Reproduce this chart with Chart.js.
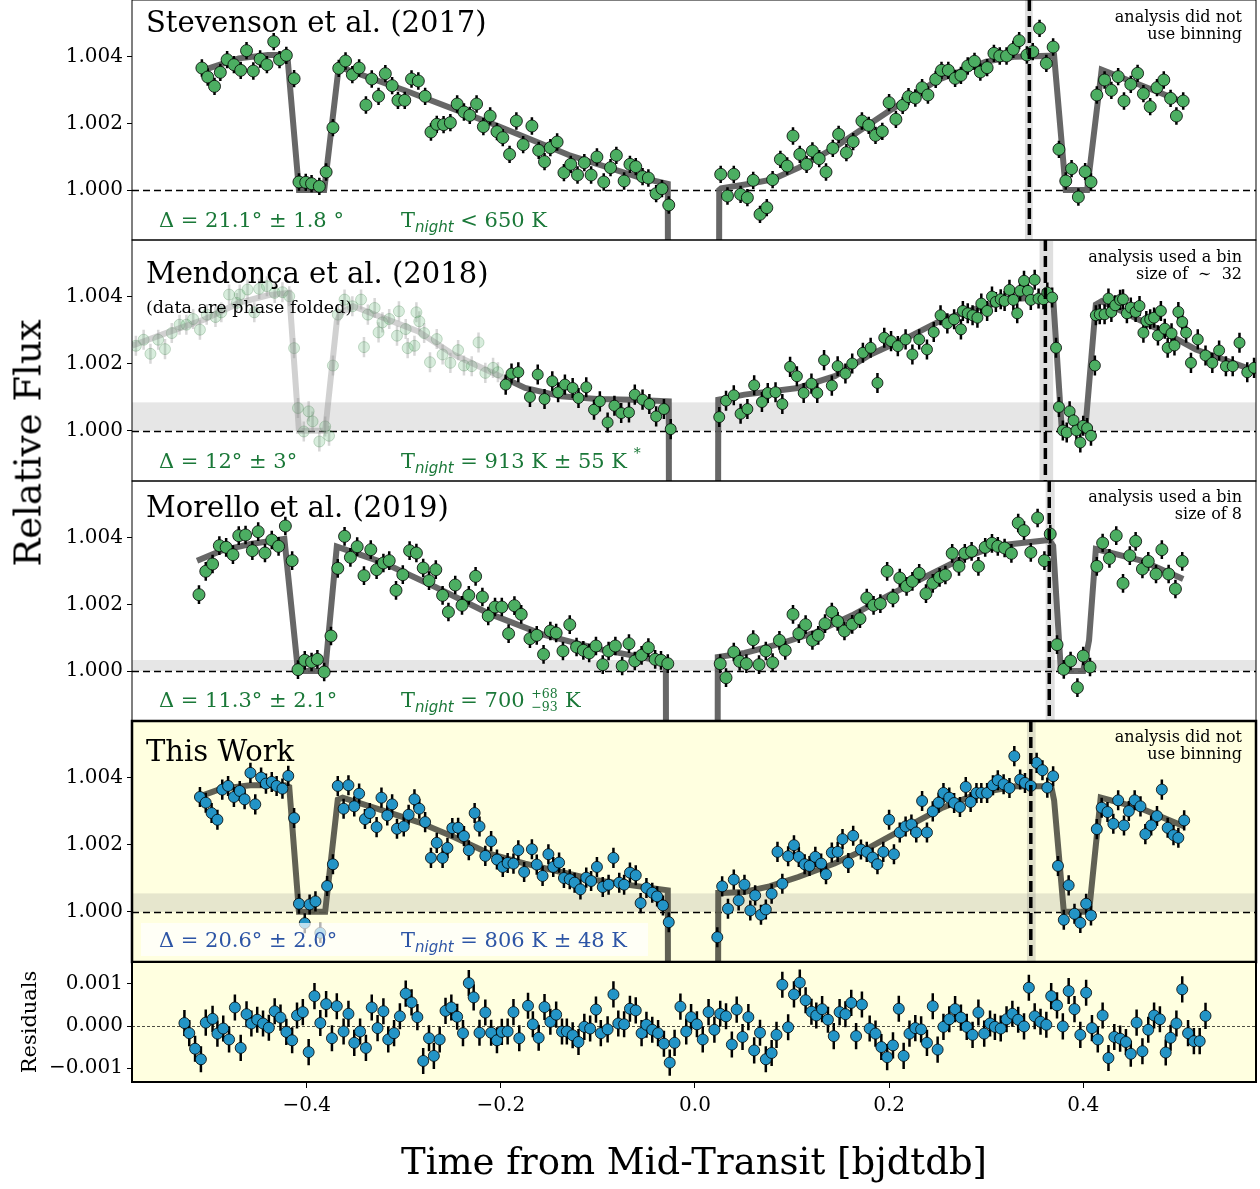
<!DOCTYPE html>
<html>
<head>
<meta charset="utf-8">
<script src="https://cdn.jsdelivr.net/npm/chart.js@4.4.1/dist/chart.umd.min.js"></script>
<style>
  body { margin: 0; background: #fff; }
  #fig { position: relative; width: 1260px; height: 1189px; overflow: hidden; background: #fff; }
  #fig canvas { position: absolute; left: 0; }
  .txt { position: absolute; font-family: 'DejaVu Serif'; white-space: nowrap; line-height: 1; color: #000; z-index: 5; }
  .title { font-size: 29px; left: 146px; }
  .folded { font-size: 17.5px; left: 146px; }
  .note { font-size: 16px; line-height: 17px; right: 18px; text-align: right; }
  .param { font-size: 21px; }
  .green { color: #1a7838; }
  .blue { color: #2d55a5; }
  .night { font-family: 'DejaVu Sans'; font-style: italic; font-size: 15px; position: relative; top: 5px; }
  .star { font-size: 14px; position: relative; top: -10px; }
  .pm { display: inline-block; position: relative; width: 27px; height: 10px; }
  .pm span { position: absolute; left: 0; font-size: 12.5px; line-height: 12.5px; }
  .pm .up { top: -9px; }
  .pm .dn { top: 4px; }
  .box { position: absolute; left: 141px; top: 923px; width: 507px; height: 33px; background: rgba(255,255,255,0.7); z-index: 4; }
  .ylabel { font-size: 37px; left: 28px; top: 443px; transform: translate(-50%, -50%) rotate(-90deg); }
</style>
</head>
<body>
<div id="fig">
  <div class="txt title" style="top:7.5px">Stevenson et al. (2017)</div>
  <div class="txt note" style="top:8px">analysis did not<br>use binning</div>
  <div class="txt param green" style="left:159px;top:210px">Δ = 21.1° ± 1.8 °</div>
  <div class="txt param green" style="left:401px;top:210px">T<span class="night">night</span> &lt; 650 K</div>

  <div class="txt title" style="top:258.5px">Mendonça et al. (2018)</div>
  <div class="txt folded" style="top:299px">(data are phase folded)</div>
  <div class="txt note" style="top:248px">analysis used a bin<br>size of &nbsp;∼&nbsp; 32</div>
  <div class="txt param green" style="left:159px;top:450.5px">Δ = 12° ± 3°</div>
  <div class="txt param green" style="left:401px;top:450.5px">T<span class="night">night</span> = 913 K ± 55 K <span class="star">*</span></div>

  <div class="txt title" style="top:492.5px">Morello et al. (2019)</div>
  <div class="txt note" style="top:488px">analysis used a bin<br>size of 8</div>
  <div class="txt param green" style="left:159px;top:690px">Δ = 11.3° ± 2.1°</div>
  <div class="txt param green" style="left:401px;top:690px">T<span class="night">night</span> = 700 <span class="pm"><span class="up">+68</span><span class="dn">−93</span></span> K</div>

  <div class="txt title" style="top:736.5px">This Work</div>
  <div class="txt note" style="top:728px">analysis did not<br>use binning</div>
  <div class="box"></div>
  <div class="txt param blue" style="left:159px;top:930px">Δ = 20.6° ± 2.0°</div>
  <div class="txt param blue" style="left:401px;top:930px">T<span class="night">night</span> = 806 K ± 48 K</div>

  <div class="txt ylabel">Relative Flux</div>
</div>
<script>
// axis limits and ticks
const timeMin = -0.58, timeMax = 0.578;
const fluxMin = 0.9985, fluxMax = 1.0057;
const residualMin = -0.00133, residualMax = 0.00152;
const fluxTicks = [1.000, 1.002, 1.004];
const residualTicks = [-0.001, 0.000, 0.001];
const timeTicks = [-0.4, -0.2, 0.0, 0.2, 0.4];

// Stevenson et al. (2017)
const stevensonTime = [-0.508, -0.502, -0.495, -0.489, -0.482, -0.475, -0.468, -0.462, -0.455, -0.448, -0.441, -0.434, -0.428, -0.421, -0.413, -0.408, -0.401, -0.395, -0.387, -0.380, -0.373, -0.367, -0.360, -0.353, -0.346, -0.339, -0.333, -0.326, -0.319, -0.312, -0.306, -0.299, -0.292, -0.285, -0.278, -0.272, -0.266, -0.259, -0.252, -0.245, -0.238, -0.232, -0.225, -0.218, -0.211, -0.204, -0.198, -0.191, -0.184, -0.177, -0.168, -0.161, -0.155, -0.149, -0.142, -0.135, -0.128, -0.121, -0.114, -0.107, -0.101, -0.094, -0.087, -0.081, -0.073, -0.067, -0.061, -0.054, -0.048, -0.040, -0.034, -0.027,
  0.0265, 0.0335, 0.040, 0.047, 0.054, 0.060, 0.067, 0.074, 0.080, 0.088, 0.095, 0.101, 0.108, 0.115, 0.121, 0.128, 0.135, 0.142, 0.148, 0.156, 0.163, 0.172, 0.179, 0.186, 0.193, 0.200, 0.207, 0.214, 0.220, 0.227, 0.234, 0.240, 0.248, 0.254, 0.261, 0.268, 0.274, 0.281, 0.288, 0.294, 0.301, 0.308, 0.314, 0.321, 0.328, 0.334, 0.342, 0.348, 0.355, 0.362, 0.369, 0.375, 0.382, 0.388, 0.395, 0.402, 0.408, 0.414, 0.422, 0.429, 0.436, 0.442, 0.449, 0.456, 0.462, 0.469, 0.476, 0.483, 0.490, 0.496, 0.503];
const stevensonFlux = [1.00366, 1.00339, 1.00311, 1.00353, 1.00391, 1.00376, 1.00359, 1.00418, 1.00357, 1.00393, 1.00376, 1.00445, 1.00391, 1.00404, 1.00334, 1.00024, 1.00023, 1.00019, 1.00011, 1.00054, 1.00187, 1.00365, 1.00387, 1.00346, 1.00366, 1.00255, 1.00333, 1.00281, 1.00349, 1.00313, 1.00269, 1.00269, 1.00333, 1.00327, 1.00281, 1.00174, 1.00197, 1.00196, 1.00202, 1.00258, 1.00234, 1.00224, 1.00258, 1.00190, 1.00222, 1.00175, 1.00157, 1.00107, 1.00207, 1.00136, 1.00192, 1.00119, 1.00085, 1.00127, 1.00144, 1.00052, 1.00077, 1.00045, 1.00082, 1.00045, 1.00099, 1.00024, 1.00067, 1.00104, 1.00027, 1.00077, 1.00070, 1.00040, 1.00036, 0.99989, 1.00004, 0.99955,
  1.00047, 0.99982, 1.00047, 0.99987, 0.99977, 1.00029, 0.99927, 0.99947, 1.00031, 1.00092, 1.00072, 1.00162, 1.00107, 1.00077, 1.00117, 1.00094, 1.00054, 1.00125, 1.00167, 1.00112, 1.00145, 1.00207, 1.00194, 1.00164, 1.00176, 1.00262, 1.00212, 1.00254, 1.00280, 1.00276, 1.00307, 1.00285, 1.00332, 1.00359, 1.00359, 1.00335, 1.00344, 1.00372, 1.00386, 1.00354, 1.00367, 1.00410, 1.00402, 1.00402, 1.00422, 1.00448, 1.00405, 1.00415, 1.00485, 1.00380, 1.00429, 1.00122, 1.00027, 1.00064, 0.99979, 1.00055, 1.00024, 1.00285, 1.00330, 1.00299, 1.00340, 1.00267, 1.00317, 1.00350, 1.00289, 1.00250, 1.00307, 1.00330, 1.00275, 1.00222, 1.00267];
const stevensonModelTime = [-0.508, -0.47, -0.44, -0.420, -0.408, -0.382, -0.367, -0.30, -0.21, -0.13, -0.06, -0.028, -0.0265, 0.0235, 0.025, 0.027, 0.055, 0.08, 0.107, 0.14, 0.20, 0.25, 0.30, 0.33, 0.370, 0.382, 0.404, 0.419, 0.505];
const stevensonModelFlux = [1.00358, 1.00395, 1.00405, 1.00405, 1.00000, 1.00000, 1.00370, 1.00300, 1.00200, 1.00105, 1.00040, 1.00018, 0.975, 0.975, 1.00000, 1.00005, 1.00018, 1.00032, 1.00067, 1.00120, 1.00237, 1.00330, 1.00385, 1.00400, 1.00403, 1.00000, 1.00000, 1.00361, 1.00262];

// Mendonça et al. (2018): phase folded part (faded) and fitted part
const mendoncaFoldedTime = [-0.576, -0.568, -0.561, -0.553, -0.546, -0.539, -0.531, -0.524, -0.517, -0.510, -0.503, -0.494, -0.488, -0.480, -0.472, -0.469, -0.461, -0.454, -0.449, -0.441, -0.433, -0.425, -0.418, -0.413, -0.409, -0.403, -0.398, -0.394, -0.387, -0.381, -0.377, -0.373, -0.368, -0.361, -0.353, -0.344, -0.341, -0.337, -0.330, -0.326, -0.322, -0.315, -0.307, -0.305, -0.298, -0.296, -0.289, -0.287, -0.284, -0.279, -0.273, -0.266, -0.260, -0.252, -0.244, -0.238, -0.230, -0.223, -0.216, -0.208, -0.203];
const mendoncaFoldedFlux = [1.00254, 1.00272, 1.00230, 1.00272, 1.00244, 1.00292, 1.00317, 1.00317, 1.00334, 1.00302, 1.00347, 1.00340, 1.00354, 1.00407, 1.00382, 1.00407, 1.00422, 1.00354, 1.00424, 1.00432, 1.00412, 1.00414, 1.00402, 1.00247, 1.00068, 0.99998, 1.00058, 1.00028, 0.99968, 1.00013, 0.99985, 1.00195, 1.00347, 1.00392, 1.00372, 1.00392, 1.00250, 1.00347, 1.00367, 1.00294, 1.00324, 1.00334, 1.00284, 1.00357, 1.00304, 1.00247, 1.00254, 1.00354, 1.00327, 1.00292, 1.00205, 1.00274, 1.00228, 1.00203, 1.00241, 1.00195, 1.00193, 1.00264, 1.00173, 1.00188, 1.00175];
const mendoncaTime = [-0.195, -0.189, -0.182, -0.170, -0.162, -0.155, -0.147, -0.141, -0.134, -0.126, -0.120, -0.112, -0.104, -0.098, -0.090, -0.083, -0.076, -0.068, -0.062, -0.054, -0.047, -0.040, -0.032, -0.025,
  0.025, 0.032, 0.040, 0.047, 0.054, 0.061, 0.069, 0.075, 0.083, 0.090, 0.098, 0.105, 0.112, 0.120, 0.126, 0.133, 0.141, 0.147, 0.155, 0.162, 0.173, 0.181, 0.188, 0.195, 0.202, 0.209, 0.217, 0.224, 0.231, 0.239, 0.246, 0.253, 0.260, 0.267, 0.274, 0.276, 0.281, 0.286, 0.291, 0.295, 0.301, 0.306, 0.310, 0.315, 0.319, 0.324, 0.328, 0.332, 0.335, 0.339, 0.343, 0.346, 0.350, 0.354, 0.359, 0.363, 0.368, 0.372, 0.375, 0.379, 0.383, 0.386, 0.390, 0.393, 0.397, 0.400, 0.404, 0.408, 0.412, 0.413, 0.417, 0.422, 0.426, 0.429, 0.433, 0.438, 0.441, 0.445, 0.449, 0.454, 0.458, 0.462, 0.465, 0.469, 0.473, 0.477, 0.480, 0.484, 0.487, 0.491, 0.494, 0.498, 0.502, 0.506, 0.511, 0.518, 0.526, 0.533, 0.540, 0.547, 0.554, 0.561, 0.569, 0.576];
const mendoncaFlux = [1.00138, 1.00171, 1.00175, 1.00101, 1.00168, 1.00095, 1.00148, 1.00115, 1.00138, 1.00128, 1.00098, 1.00130, 1.00063, 1.00088, 1.00025, 1.00075, 1.00053, 1.00055, 1.00108, 1.00093, 1.00080, 1.00043, 1.00065, 1.00005,
  1.00041, 1.00090, 1.00106, 1.00051, 1.00065, 1.00136, 1.00086, 1.00113, 1.00115, 1.00080, 1.00191, 1.00163, 1.00113, 1.00141, 1.00113, 1.00211, 1.00135, 1.00193, 1.00171, 1.00201, 1.00233, 1.00248, 1.00143, 1.00278, 1.00268, 1.00253, 1.00273, 1.00228, 1.00273, 1.00243, 1.00295, 1.00345, 1.00321, 1.00333, 1.00303, 1.00358, 1.00351, 1.00345, 1.00338, 1.00380, 1.00358, 1.00401, 1.00385, 1.00393, 1.00388, 1.00421, 1.00391, 1.00351, 1.00418, 1.00448, 1.00418, 1.00391, 1.00451, 1.00395, 1.00393, 1.00413, 1.00398, 1.00248, 1.00071, 1.00001, 0.99995, 1.00058, 1.00031, 1.00001, 0.99965, 1.00015, 1.00008, 0.99985, 1.00195, 1.00345, 1.00348, 1.00348, 1.00395, 1.00355, 1.00375, 1.00391, 1.00393, 1.00351, 1.00368, 1.00355, 1.00373, 1.00293, 1.00328, 1.00333, 1.00338, 1.00285, 1.00358, 1.00305, 1.00248, 1.00291, 1.00255, 1.00355, 1.00325, 1.00293, 1.00203, 1.00273, 1.00225, 1.00203, 1.00240, 1.00193, 1.00193, 1.00263, 1.00175, 1.00188];
const mendoncaFoldedModelTime = [-0.580, -0.543, -0.506, -0.47, -0.44, -0.418, -0.408, -0.381, -0.369, -0.365, -0.352, -0.285, -0.249, -0.197];
const mendoncaFoldedModelFlux = [1.00254, 1.00294, 1.00332, 1.00382, 1.00405, 1.00412, 1.00000, 1.00000, 1.00327, 1.00352, 1.00372, 1.00297, 1.00228, 1.00158];
const mendoncaModelTime = [-0.197, -0.175, -0.138, -0.101, -0.065, -0.027, -0.0255, 0.0225, 0.024, 0.051, 0.106, 0.144, 0.181, 0.218, 0.255, 0.292, 0.330, 0.367, 0.369, 0.378, 0.402, 0.413, 0.419, 0.4785, 0.516, 0.578];
const mendoncaModelFlux = [1.00158, 1.00128, 1.00103, 1.00095, 1.00093, 1.00088, 0.975, 0.975, 1.00093, 1.00108, 1.00128, 1.00163, 1.00228, 1.00277, 1.00332, 1.00367, 1.00394, 1.00402, 1.00397, 1.00000, 1.00000, 1.00377, 1.00387, 1.00302, 1.00243, 1.00178];

// Morello et al. (2019)
const morelloTime = [-0.511, -0.504, -0.497, -0.490, -0.483, -0.476, -0.470, -0.463, -0.456, -0.450, -0.443, -0.436, -0.429, -0.422, -0.415, -0.409, -0.402, -0.395, -0.389, -0.382, -0.375, -0.368, -0.361, -0.355, -0.348, -0.341, -0.334, -0.328, -0.321, -0.315, -0.308, -0.301, -0.294, -0.287, -0.280, -0.274, -0.267, -0.260, -0.254, -0.247, -0.240, -0.233, -0.226, -0.219, -0.213, -0.206, -0.199, -0.192, -0.186, -0.179, -0.170, -0.163, -0.156, -0.149, -0.143, -0.136, -0.129, -0.122, -0.115, -0.109, -0.102, -0.095, -0.089, -0.082, -0.075, -0.068, -0.062, -0.055, -0.048, -0.041, -0.035, -0.028,
  0.026, 0.032, 0.040, 0.046, 0.053, 0.060, 0.066, 0.073, 0.080, 0.087, 0.093, 0.101, 0.107, 0.114, 0.121, 0.127, 0.134, 0.141, 0.147, 0.154, 0.162, 0.170, 0.177, 0.184, 0.191, 0.198, 0.204, 0.211, 0.218, 0.224, 0.231, 0.238, 0.245, 0.252, 0.258, 0.265, 0.272, 0.278, 0.285, 0.292, 0.299, 0.306, 0.312, 0.319, 0.326, 0.333, 0.339, 0.346, 0.353, 0.360, 0.366, 0.373, 0.380, 0.387, 0.394, 0.400, 0.407, 0.414, 0.420, 0.427, 0.434, 0.441, 0.448, 0.454, 0.461, 0.467, 0.475, 0.481, 0.488, 0.495, 0.502];
const morelloFlux = [1.00229, 1.00299, 1.00321, 1.00376, 1.00371, 1.00349, 1.00406, 1.00408, 1.00361, 1.00418, 1.00354, 1.00393, 1.00374, 1.00435, 1.00331, 1.00004, 1.00032, 1.00027, 1.00035, 0.99997, 1.00105, 1.00308, 1.00404, 1.00341, 1.00373, 1.00286, 1.00364, 1.00304, 1.00324, 1.00331, 1.00242, 1.00289, 1.00361, 1.00354, 1.00309, 1.00271, 1.00304, 1.00227, 1.00177, 1.00258, 1.00197, 1.00227, 1.00284, 1.00222, 1.00165, 1.00192, 1.00192, 1.00112, 1.00196, 1.00170, 1.00097, 1.00107, 1.00050, 1.00120, 1.00114, 1.00060, 1.00139, 1.00072, 1.00062, 1.00054, 1.00075, 1.00019, 1.00060, 1.00075, 1.00015, 1.00082, 1.00030, 1.00047, 1.00070, 1.00035, 1.00032, 1.00022,
  1.00022, 0.99980, 1.00057, 1.00029, 1.00022, 1.00094, 1.00019, 1.00060, 1.00025, 1.00092, 1.00062, 1.00170, 1.00112, 1.00139, 1.00092, 1.00107, 1.00142, 1.00177, 1.00149, 1.00120, 1.00140, 1.00157, 1.00219, 1.00197, 1.00202, 1.00299, 1.00219, 1.00279, 1.00254, 1.00269, 1.00293, 1.00232, 1.00263, 1.00281, 1.00288, 1.00353, 1.00314, 1.00353, 1.00359, 1.00314, 1.00371, 1.00383, 1.00374, 1.00369, 1.00353, 1.00444, 1.00421, 1.00356, 1.00459, 1.00331, 1.00411, 1.00079, 1.00005, 1.00030, 0.99950, 1.00045, 1.00012, 1.00314, 1.00384, 1.00338, 1.00406, 1.00263, 1.00346, 1.00389, 1.00306, 1.00329, 1.00291, 1.00364, 1.00291, 1.00246, 1.00329];
const morelloModelTime = [-0.513, -0.488, -0.458, -0.423, -0.409, -0.381, -0.369, -0.322, -0.267, -0.212, -0.157, -0.101, -0.065, -0.030, -0.0285, 0.0225, 0.0235, 0.051, 0.088, 0.125, 0.162, 0.1995, 0.237, 0.274, 0.311, 0.348, 0.365, 0.369, 0.377, 0.400, 0.406, 0.413, 0.46, 0.503];
const morelloModelFlux = [1.00331, 1.00361, 1.00381, 1.00396, 1.00000, 1.00000, 1.00373, 1.00326, 1.00251, 1.00172, 1.00110, 1.00067, 1.00047, 1.00027, 0.975, 0.975, 1.00042, 1.00054, 1.00082, 1.00117, 1.00167, 1.00227, 1.00282, 1.00336, 1.00376, 1.00388, 1.00393, 1.00376, 1.00000, 1.00000, 1.00092, 1.00366, 1.00331, 1.00276];

// This Work
const thisWorkTime = [-0.510, -0.504, -0.498, -0.492, -0.487, -0.481, -0.475, -0.469, -0.464, -0.458, -0.453, -0.447, -0.442, -0.436, -0.431, -0.425, -0.419, -0.413, -0.408, -0.402, -0.397, -0.391, -0.386, -0.379, -0.373, -0.368, -0.362, -0.357, -0.351, -0.346, -0.340, -0.335, -0.328, -0.323, -0.317, -0.312, -0.307, -0.300, -0.295, -0.289, -0.284, -0.278, -0.272, -0.266, -0.260, -0.255, -0.250, -0.244, -0.238, -0.233, -0.227, -0.222, -0.216, -0.210, -0.204, -0.198, -0.193, -0.187, -0.182, -0.176, -0.168, -0.163, -0.157, -0.151, -0.146, -0.140, -0.135, -0.129, -0.124, -0.118, -0.112, -0.107, -0.101, -0.095, -0.089, -0.084, -0.078, -0.073, -0.067, -0.061, -0.056, -0.050, -0.044, -0.039, -0.033, -0.027,
  0.023, 0.028, 0.034, 0.040, 0.045, 0.051, 0.057, 0.062, 0.068, 0.073, 0.079, 0.085, 0.090, 0.096, 0.102, 0.107, 0.113, 0.118, 0.124, 0.130, 0.135, 0.141, 0.147, 0.152, 0.158, 0.163, 0.171, 0.177, 0.183, 0.188, 0.194, 0.200, 0.205, 0.211, 0.217, 0.223, 0.228, 0.234, 0.239, 0.245, 0.251, 0.256, 0.262, 0.267, 0.273, 0.279, 0.284, 0.290, 0.295, 0.301, 0.307, 0.312, 0.318, 0.324, 0.329, 0.335, 0.340, 0.346, 0.352, 0.358, 0.363, 0.369, 0.374, 0.380, 0.385, 0.391, 0.397, 0.403, 0.408, 0.414, 0.419, 0.425, 0.431, 0.436, 0.442, 0.447, 0.453, 0.459, 0.464, 0.470, 0.476, 0.481, 0.487, 0.493, 0.498, 0.504];
const thisWorkFlux = [1.00343, 1.00326, 1.00295, 1.00275, 1.00365, 1.00376, 1.00343, 1.00361, 1.00336, 1.00415, 1.00321, 1.00401, 1.00383, 1.00388, 1.00376, 1.00368, 1.00406, 1.00280, 1.00024, 0.99966, 1.00022, 1.00031, 0.99937, 1.00077, 1.00142, 1.00376, 1.00308, 1.00378, 1.00315, 1.00353, 1.00277, 1.00295, 1.00253, 1.00341, 1.00288, 1.00321, 1.00248, 1.00255, 1.00290, 1.00336, 1.00308, 1.00268, 1.00161, 1.00206, 1.00161, 1.00191, 1.00250, 1.00251, 1.00226, 1.00184, 1.00295, 1.00255, 1.00167, 1.00211, 1.00156, 1.00134, 1.00146, 1.00144, 1.00184, 1.00119, 1.00187, 1.00141, 1.00107, 1.00172, 1.00134, 1.00147, 1.00101, 1.00097, 1.00087, 1.00067, 1.00102, 1.00092, 1.00134, 1.00074, 1.00081, 1.00161, 1.00087, 1.00081, 1.00117, 1.00109, 1.00026, 1.00071, 1.00057, 1.00046, 1.00019, 0.99969,
  0.99924, 1.00076, 1.00009, 1.00096, 1.00034, 1.00081, 1.00004, 1.00049, 0.99991, 1.00007, 1.00054, 1.00179, 1.00084, 1.00166, 1.00199, 1.00164, 1.00142, 1.00137, 1.00164, 1.00144, 1.00112, 1.00177, 1.00179, 1.00217, 1.00146, 1.00227, 1.00186, 1.00179, 1.00162, 1.00142, 1.00179, 1.00275, 1.00172, 1.00237, 1.00255, 1.00261, 1.00237, 1.00331, 1.00237, 1.00300, 1.00326, 1.00355, 1.00341, 1.00325, 1.00313, 1.00373, 1.00328, 1.00355, 1.00355, 1.00355, 1.00378, 1.00393, 1.00381, 1.00370, 1.00465, 1.00395, 1.00385, 1.00376, 1.00445, 1.00423, 1.00371, 1.00405, 1.00137, 0.99976, 1.00079, 0.99994, 0.99967, 1.00024, 0.99989, 1.00247, 1.00311, 1.00298, 1.00263, 1.00333, 1.00258, 1.00301, 1.00333, 1.00315, 1.00232, 1.00258, 1.00286, 1.00365, 1.00251, 1.00229, 1.00221, 1.00273];
const thisWorkModelTime = [-0.510, -0.488, -0.458, -0.422, -0.418, -0.408, -0.381, -0.368, -0.363, -0.322, -0.285, -0.249, -0.212, -0.175, -0.138, -0.101, -0.065, -0.028, -0.0265, 0.0225, 0.024, 0.0276, 0.0506, 0.0767, 0.1064, 0.1437, 0.181, 0.218, 0.255, 0.293, 0.330, 0.367, 0.370, 0.380, 0.406, 0.418, 0.46, 0.505];
const thisWorkModelFlux = [1.00345, 1.00368, 1.00378, 1.00378, 1.00373, 1.00000, 1.00000, 1.00335, 1.00341, 1.00303, 1.00268, 1.00224, 1.00174, 1.00144, 1.00119, 1.00094, 1.00079, 1.00064, 0.975, 0.975, 1.00056, 1.00056, 1.00059, 1.00076, 1.00104, 1.00144, 1.00194, 1.00253, 1.00311, 1.00355, 1.00375, 1.00375, 1.00333, 1.00000, 1.00000, 1.00341, 1.00308, 1.00254];

// residuals of this work
const residualTime = [-0.526, -0.521, -0.515, -0.509, -0.504, -0.497, -0.492, -0.486, -0.480, -0.474, -0.468, -0.462, -0.457, -0.451, -0.445, -0.439, -0.433, -0.427, -0.421, -0.415, -0.410, -0.404, -0.398, -0.392, -0.386, -0.380, -0.374, -0.369, -0.362, -0.357, -0.351, -0.345, -0.339, -0.333, -0.327, -0.321, -0.316, -0.310, -0.304, -0.298, -0.292, -0.286, -0.280, -0.274, -0.269, -0.263, -0.257, -0.251, -0.245, -0.239, -0.233, -0.228, -0.222, -0.216, -0.210, -0.204, -0.199, -0.193, -0.187, -0.181, -0.172, -0.167, -0.161, -0.155, -0.149, -0.143, -0.137, -0.132, -0.126, -0.120, -0.114, -0.108, -0.102, -0.097, -0.090, -0.084, -0.079, -0.073, -0.067, -0.061, -0.055, -0.050, -0.044, -0.038, -0.032, -0.026, -0.021, -0.015, -0.009, -0.004,
  0.002, 0.008, 0.014, 0.020, 0.026, 0.032, 0.038, 0.043, 0.049, 0.055, 0.061, 0.067, 0.073, 0.079, 0.084, 0.090, 0.096, 0.102, 0.108, 0.114, 0.120, 0.125, 0.131, 0.137, 0.143, 0.149, 0.155, 0.161, 0.166, 0.172, 0.180, 0.186, 0.192, 0.198, 0.204, 0.210, 0.215, 0.221, 0.227, 0.233, 0.239, 0.245, 0.250, 0.256, 0.262, 0.268, 0.274, 0.280, 0.286, 0.292, 0.298, 0.304, 0.309, 0.315, 0.321, 0.327, 0.333, 0.339, 0.344, 0.350, 0.356, 0.362, 0.367, 0.373, 0.379, 0.385, 0.391, 0.397, 0.403, 0.409, 0.415, 0.420, 0.426, 0.432, 0.438, 0.444, 0.449, 0.455, 0.461, 0.467, 0.473, 0.479, 0.485, 0.490, 0.496, 0.502, 0.508, 0.514, 0.520, 0.526];
const residualFlux = [0.00007, -0.00017, -0.00054, -0.00079, 0.00008, 0.00017, -0.00018, -0.00006, -0.00032, 0.00044, -0.00052, 0.00028, 0.00006, 0.00015, 0.00006, -0.00004, 0.00035, 0.00020, -0.00014, -0.00034, 0.00025, 0.00033, -0.00062, 0.00071, 0.00007, 0.00052, -0.00029, 0.00047, -0.00013, 0.00029, -0.00040, -0.00013, -0.00052, 0.00044, -0.00005, 0.00035, -0.00032, -0.00017, 0.00023, 0.00077, 0.00056, 0.00021, -0.00083, -0.00029, -0.00071, -0.00032, 0.00036, 0.00044, 0.00022, -0.00017, 0.00102, 0.00068, -0.00016, 0.00032, -0.00016, -0.00034, -0.00014, -0.00013, 0.00033, -0.00029, 0.00048, 0.00004, -0.00028, 0.00045, 0.00010, 0.00027, -0.00013, -0.00013, -0.00022, -0.00038, -0.00002, -0.00006, 0.00039, -0.00017, -0.00008, 0.00075, 0.00006, 0.00004, 0.00041, 0.00037, -0.00017, 0.00003, -0.00009, -0.00017, -0.00042, -0.00087, -0.00040, 0.00046, -0.00013, 0.00021,
  0.00004, -0.00032, 0.00033, -0.00009, 0.00029, 0.00023, -0.00044, 0.00039, -0.00026, 0.00021, -0.00058, -0.00016, -0.00079, -0.00064, -0.00021, 0.00098, -0.00003, 0.00075, 0.00103, 0.00061, 0.00034, 0.00025, 0.00040, 0.00015, -0.00024, 0.00033, 0.00028, 0.00055, -0.00024, 0.00051, -0.00006, -0.00018, -0.00050, -0.00074, -0.00046, 0.00041, -0.00071, -0.00018, -0.00005, -0.00008, -0.00040, 0.00047, -0.00056, -0.00002, 0.00016, 0.00040, 0.00020, -0.00002, -0.00021, 0.00032, -0.00018, 0.00006, -0.00002, -0.00006, 0.00016, 0.00029, 0.00015, -0.00001, 0.00091, 0.00023, 0.00010, 0.00003, 0.00071, 0.00049, -0.00001, 0.00083, 0.00040, -0.00021, 0.00079, -0.00005, -0.00032, 0.00025, -0.00076, -0.00026, -0.00030, -0.00038, -0.00066, 0.00008, -0.00060, -0.00009, 0.00025, 0.00016, -0.00063, -0.00028, 0.00006, 0.00087, -0.00017, -0.00036, -0.00036, 0.00024];

// eclipse centre and its uncertainty, and nightside flux band, per study
const eclipseCenter = [0.3445, 0.361, 0.365, 0.346];
const eclipseSpan = [[0.340, 0.348], [0.355, 0.369], [0.3613, 0.3706], [0.342, 0.351]];
const nightBand = [null, [1.0, 1.00085], [1.0, 1.00033], [1.0, 1.00055]];

const green = '#4cae62';
const blue = '#2394c6';

Chart.defaults.font.family = 'DejaVu Serif';
Chart.defaults.color = '#000';

const pts = (xs, ys) => xs.map((x, i) => ({ x: x, y: ys[i] }));

function pointSet(xs, ys, err, color, r, extra) {
  return Object.assign({
    data: pts(xs, ys), errY: err, errColor: '#000',
    backgroundColor: color, borderColor: '#000', borderWidth: 0.8,
    pointRadius: r, pointHoverRadius: r, clip: 0, order: 1
  }, extra || {});
}
function modelSet(xs, ys, color, order) {
  return { data: pts(xs, ys), showLine: true, borderColor: color, borderWidth: 6,
    pointRadius: 0, fill: false, tension: 0, clip: 0, order: order || 2 };
}

const panelDecor = {
  id: 'panelDecor',
  beforeDraw(chart, args, o) {
    if (!o.background) return;
    const a = chart.chartArea, ctx = chart.ctx;
    ctx.save();
    ctx.fillStyle = o.background;
    ctx.fillRect(a.left, a.top, a.right - a.left, a.bottom - a.top);
    ctx.restore();
  },
  beforeDatasetsDraw(chart, args, o) {
    const { ctx, chartArea: a, scales: { x, y } } = chart;
    ctx.save();
    ctx.beginPath();
    ctx.rect(a.left, a.top, a.right - a.left, a.bottom - a.top);
    ctx.clip();
    if (o.hband) {
      const y1 = y.getPixelForValue(o.hband[0]), y2 = y.getPixelForValue(o.hband[1]);
      ctx.fillStyle = 'rgba(128,128,128,0.2)';
      ctx.fillRect(a.left, y2, a.right - a.left, y1 - y2);
    }
    if (o.vband) {
      const x1 = x.getPixelForValue(o.vband[0]), x2 = x.getPixelForValue(o.vband[1]);
      ctx.fillStyle = 'rgba(128,128,128,0.25)';
      ctx.fillRect(x1, a.top, x2 - x1, a.bottom - a.top);
    }
    if (o.hline !== undefined && o.hline !== null) {
      const py = Math.round(y.getPixelForValue(o.hline)) + 0.5;
      ctx.strokeStyle = '#000';
      ctx.lineWidth = o.hlineWidth;
      ctx.setLineDash(o.hlineDash);
      ctx.beginPath();
      ctx.moveTo(a.left, py);
      ctx.lineTo(a.right, py);
      ctx.stroke();
    }
    ctx.restore();
  },
  beforeDatasetDraw(chart, args) {
    const ds = chart.data.datasets[args.index];
    if (!ds.errY) return;
    const { ctx, chartArea: a, scales: { y } } = chart;
    ctx.save();
    ctx.beginPath();
    ctx.rect(a.left, a.top, a.right - a.left, a.bottom - a.top);
    ctx.clip();
    ctx.strokeStyle = ds.errColor;
    ctx.lineWidth = 2.5;
    ctx.beginPath();
    args.meta.data.forEach((el, i) => {
      const v = ds.data[i].y;
      ctx.moveTo(el.x, y.getPixelForValue(v - ds.errY));
      ctx.lineTo(el.x, y.getPixelForValue(v + ds.errY));
    });
    ctx.stroke();
    ctx.restore();
  },
  afterDatasetsDraw(chart, args, o) {
    if (o.vline === undefined || o.vline === null) return;
    const { ctx, chartArea: a, scales: { x } } = chart;
    const px = x.getPixelForValue(o.vline);
    ctx.save();
    ctx.strokeStyle = '#000';
    ctx.lineWidth = 3.5;
    ctx.setLineDash([11, 5]);
    ctx.beginPath();
    ctx.moveTo(px, a.top);
    ctx.lineTo(px, a.bottom);
    ctx.stroke();
    ctx.restore();
  },
  afterDraw(chart, args, o) {
    const { ctx, chartArea: a } = chart;
    ctx.save();
    ctx.strokeStyle = '#000';
    ctx.lineWidth = o.frameWidth || 1;
    ctx.strokeRect(a.left, a.top, a.right - a.left, a.bottom - a.top);
    ctx.restore();
  }
};

const fmt = (v, d) => v.toFixed(d).replace('-', '\u2212');

const panels = [
  {
    top: 0, bottom: 240,
    datasets: [
      modelSet(stevensonModelTime, stevensonModelFlux, 'rgba(95,95,95,0.95)'),
      pointSet(stevensonTime, stevensonFlux, 0.00026, green, 6)
    ],
    decor: { hline: 1.0, hlineWidth: 1.6, hlineDash: [7, 4], vline: eclipseCenter[0], vband: eclipseSpan[0], hband: nightBand[0] }
  },
  {
    top: 240, bottom: 481,
    datasets: [
      pointSet(mendoncaFoldedTime, mendoncaFoldedFlux, 0.0003, 'rgba(76,174,98,0.22)', 5.5,
        { borderColor: 'rgba(40,110,50,0.3)', errColor: 'rgba(140,140,140,0.35)', order: 4 }),
      modelSet(mendoncaFoldedModelTime, mendoncaFoldedModelFlux, 'rgba(140,140,140,0.4)', 3),
      modelSet(mendoncaModelTime, mendoncaModelFlux, 'rgba(95,95,95,0.95)'),
      pointSet(mendoncaTime, mendoncaFlux, 0.0003, green, 5.5)
    ],
    decor: { hline: 1.0, hlineWidth: 1.6, hlineDash: [7, 4], vline: eclipseCenter[1], vband: eclipseSpan[1], hband: nightBand[1] }
  },
  {
    top: 481, bottom: 721,
    datasets: [
      modelSet(morelloModelTime, morelloModelFlux, 'rgba(95,95,95,0.95)'),
      pointSet(morelloTime, morelloFlux, 0.00028, green, 6)
    ],
    decor: { hline: 1.0, hlineWidth: 1.6, hlineDash: [7, 4], vline: eclipseCenter[2], vband: eclipseSpan[2], hband: nightBand[2] }
  },
  {
    top: 721, bottom: 962,
    datasets: [
      modelSet(thisWorkModelTime, thisWorkModelFlux, 'rgba(88,88,76,0.95)'),
      pointSet(thisWorkTime, thisWorkFlux, 0.0003, blue, 5.5)
    ],
    decor: { background: '#ffffe0', frameWidth: 2.5, hline: 1.0, hlineWidth: 1.6, hlineDash: [7, 4], vline: eclipseCenter[3], vband: eclipseSpan[3], hband: nightBand[3] }
  },
  {
    top: 962, bottom: 1082, residual: true,
    datasets: [
      pointSet(residualTime, residualFlux, 0.00031, blue, 5.5)
    ],
    decor: { background: '#ffffe0', frameWidth: 2, hline: 0, hlineWidth: 0.7, hlineDash: [3, 2] }
  }
];

const fig = document.getElementById('fig');
const pad = 3;
const xAxisHeight = 107;

panels.forEach((p) => {
  const last = !!p.residual;
  const canvas = document.createElement('canvas');
  canvas.width = 1260;
  canvas.height = (p.bottom - p.top) + pad + (last ? xAxisHeight : pad);
  canvas.style.top = (p.top - pad) + 'px';
  fig.appendChild(canvas);

  const yTicks = last ? residualTicks : fluxTicks;
  new Chart(canvas, {
    type: 'scatter',
    data: { datasets: p.datasets },
    options: {
      responsive: false,
      animation: false,
      events: [],
      layout: { autoPadding: false, padding: { left: 0, right: 4, top: pad, bottom: last ? 0 : pad } },
      plugins: {
        legend: { display: false },
        tooltip: { enabled: false },
        panelDecor: p.decor
      },
      scales: {
        x: {
          type: 'linear', min: timeMin, max: timeMax, display: last,
          afterBuildTicks: (s) => { s.ticks = timeTicks.map(v => ({ value: v })); },
          afterFit: (s) => {
            if (last) s.height = xAxisHeight;
            s.paddingLeft = 0; s.paddingRight = 0;
          },
          grid: { drawOnChartArea: false, drawTicks: true, tickLength: 6, color: '#000', lineWidth: 1 },
          border: { display: false },
          ticks: { font: { size: 20 }, color: '#000', padding: 6, maxRotation: 0, autoSkip: false,
            callback: (v) => fmt(v, 1) },
          title: { display: true, text: 'Time from Mid-Transit [bjdtdb]', font: { size: 37 }, color: '#000',
            padding: { top: 0, bottom: 2 } }
        },
        y: {
          type: 'linear',
          min: last ? residualMin : fluxMin,
          max: last ? residualMax : fluxMax,
          afterBuildTicks: (s) => { s.ticks = yTicks.map(v => ({ value: v })); },
          afterFit: (s) => { s.width = 132; s.paddingTop = 0; s.paddingBottom = 0; },
          grid: { drawOnChartArea: false, drawTicks: true, tickLength: 5, color: '#000', lineWidth: 1 },
          border: { display: false },
          ticks: { font: { size: 20 }, color: '#000', padding: 4, autoSkip: false,
            callback: (v) => fmt(v, 3) },
          title: { display: last, text: 'Residuals', font: { size: 21 }, color: '#000', padding: { top: 18 } }
        }
      }
    },
    plugins: [panelDecor]
  });
});
</script>
</body>
</html>
